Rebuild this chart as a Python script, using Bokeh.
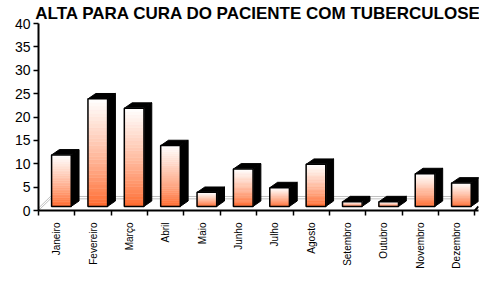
import math
from bokeh.plotting import figure
from bokeh.models import Range1d, FixedTicker, SingleIntervalTicker, ColumnDataSource
from bokeh.embed import file_html
from bokeh.resources import INLINE

# ---- data ----
meses = ["Janeiro", "Fevereiro", "Março", "Abril", "Maio", "Junho",
         "Julho", "Agosto", "Setembro", "Outubro", "Novembro", "Dezembro"]
valores = [11, 23, 21, 13, 3, 8, 4, 9, 1, 1, 7, 5]
titulo = "ALTA PARA CURA DO PACIENTE COM TUBERCULOSE"
y_max = 40
y_step = 5

# ---- style ----
FONT = "Liberation Sans"
BASE = 0.88     # front face floor height (data units)
X0, X1 = 0.36, 0.90   # front face within category
DX, DY = 0.215, 1.15  # 3D depth offset
N_SLICES = 30
C_BOT = (255, 102, 40)
C_TOP = (255, 255, 255)

def lerp(t):
    t = t ** 0.8
    r = [round(C_BOT[k] + (C_TOP[k] - C_BOT[k]) * t) for k in range(3)]
    return "#%02x%02x%02x" % tuple(r)

n = len(meses)
p = figure(width=479, height=271, output_backend="svg", toolbar_location=None,
           x_range=Range1d(0, n + 0.1), y_range=Range1d(0, y_max),
           min_border_left=38, min_border_right=1, min_border_top=0,
           min_border_bottom=0)
p.background_fill_color = "white"
p.border_fill_color = "white"
p.outline_line_color = None
p.xgrid.visible = False
p.ygrid.visible = False

p.title.text = titulo
p.title.align = "center"
p.title.text_font = FONT
p.title.text_font_size = "17px"
p.title.text_font_style = "bold"
p.title.text_color = "black"
p.title.standoff = 2

# floor lines
p.segment(x0=[0.33, 0.33, 0.0, 0.0], y0=[2.5, 3.0, 0.0, 0.5],
          x1=[n + 0.1, n + 0.1, 0.33, 0.33], y1=[2.5, 3.0, 2.5, 3.0],
          line_color="#c0c0c0", line_width=1)

# bars
sl = dict(left=[], right=[], bottom=[], top=[], color=[])
fr = dict(left=[], right=[], bottom=[], top=[])
tops_x, tops_y, side_x, side_y = [], [], [], []
for i, v in enumerate(valores):
    l, r = i + X0, i + X1
    b, t = BASE, BASE + v
    for k in range(N_SLICES):
        y0 = b + (t - b) * k / N_SLICES
        y1 = b + (t - b) * (k + 1) / N_SLICES
        sl["left"].append(l); sl["right"].append(r)
        sl["bottom"].append(y0); sl["top"].append(y1)
        sl["color"].append(lerp((k + 0.5) / N_SLICES))
    fr["left"].append(l); fr["right"].append(r)
    fr["bottom"].append(b); fr["top"].append(t)
    tops_x.append([l, r, r + DX, l + DX])
    tops_y.append([t, t, t + DY, t + DY])
    side_x.append([r, r + DX, r + DX, r])
    side_y.append([b, b + DY, t + DY, t])

p.patches(xs=side_x, ys=side_y, fill_color="black", line_color="black", line_width=1)
p.patches(xs=tops_x, ys=tops_y, fill_color="black", line_color="black", line_width=1)
p.quad(source=ColumnDataSource(sl), left="left", right="right", bottom="bottom",
       top="top", fill_color="color", line_color="color", line_width=0.5)
p.quad(source=ColumnDataSource(fr), left="left", right="right", bottom="bottom",
       top="top", fill_color=None, line_color="black", line_width=1.5)

# axis end stub
p.segment(x0=[n], y0=[0], x1=[n + 0.1], y1=[0.9], line_color="black", line_width=2)

# axes
xa = p.xaxis[0]
xa.ticker = FixedTicker(ticks=[i + 0.5 for i in range(n)],
                        minor_ticks=list(range(n + 1)))
xa.major_label_overrides = {i + 0.5: m for i, m in enumerate(meses)}
xa.major_label_orientation = math.pi / 2
xa.major_tick_line_color = None
xa.major_tick_out = 0
xa.major_tick_in = 0
xa.minor_tick_out = 5
xa.minor_tick_in = 0
xa.minor_tick_line_color = "black"
xa.minor_tick_line_width = 1.5
xa.axis_line_width = 2
xa.axis_line_color = "black"
xa.major_label_text_font = FONT
xa.major_label_text_font_size = "10px"
xa.major_label_text_color = "black"
xa.major_label_standoff = 7

ya = p.yaxis[0]
ya.ticker = SingleIntervalTicker(interval=y_step)
ya.axis_line_width = 2
ya.axis_line_color = "black"
ya.major_tick_out = 5
ya.major_tick_in = 0
ya.major_tick_line_width = 1.5
ya.major_tick_line_color = "black"
ya.minor_tick_line_color = None
ya.major_label_text_font = FONT
ya.major_label_text_font_size = "14px"
ya.major_label_text_color = "black"
ya.major_label_standoff = 3

open("out.html", "w").write(file_html(p, INLINE))
